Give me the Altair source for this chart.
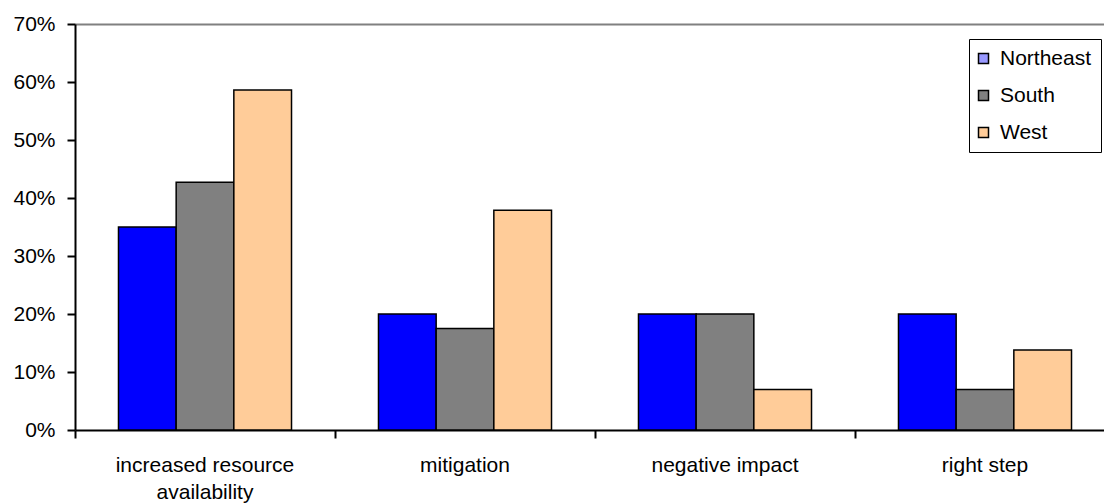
import altair as alt
import pandas as pd

categories = ["increased resource availability", "mitigation", "negative impact", "right step"]
regions = ["Northeast", "South", "West"]
northeast = [0.35, 0.20, 0.20, 0.20]
south = [0.427, 0.175, 0.20, 0.07]
west = [0.586, 0.379, 0.07, 0.138]
bar_colors = ["#0000FF", "#808080", "#FFCC99"]
legend_colors = ["#9999FF", "#808080", "#FFCC99"]
y_ticks = [0.0, 0.1, 0.2, 0.3, 0.4, 0.5, 0.6, 0.7]

rows = []
for reg, vals in zip(regions, [northeast, south, west]):
    for c, v in zip(categories, vals):
        rows.append({"category": c, "region": reg, "value": v})
df = pd.DataFrame(rows)

FONT = "Liberation Sans, Arial, sans-serif"

x_enc = alt.X(
    "category:N",
    sort=categories,
    scale=alt.Scale(range=[0, 1040], paddingInner=0, paddingOuter=0),
    axis=alt.Axis(
        title=None,
        bandPosition=0,
        labelAngle=0,
        labelAlign="center",
        labelBaseline="top",
        labelPadding=16,
        labelFontSize=21,
        labelLineHeight=27,
        labelColor="black",
        labelFont=FONT,
        tickSize=8,
        tickColor="black",
        tickWidth=2,
        domainColor="black",
        domainWidth=2,
        labelExpr="datum.label == 'increased resource availability' ? ['increased resource', 'availability'] : datum.label",
    ),
)
xo_enc = alt.XOffset("region:N", sort=regions, scale=alt.Scale(paddingInner=0, paddingOuter=0.754))

y_axis = alt.Axis(
    title=None,
    values=y_ticks,
    format=".0%",
    tickSize=8,
    tickColor="black",
    tickWidth=2,
    domainColor="black",
    domainWidth=2,
    labelPadding=12,
    labelFontSize=21,
    labelColor="black",
    labelFont=FONT,
    grid=True,
    gridWidth=2,
    gridColor={"condition": {"test": "datum.value >= 0.69", "value": "#808080"}, "value": "transparent"},
)

legend_layer = (
    alt.Chart(df)
    .transform_calculate(mid="datum.value / 2")
    .mark_square(size=100, stroke="black", strokeWidth=1.5, filled=True, opacity=1)
    .encode(
        x=x_enc,
        xOffset=xo_enc,
        y=alt.Y("mid:Q", scale=alt.Scale(domain=[0, 0.7], nice=False), axis=y_axis),
        fill=alt.Fill(
            "region:N",
            sort=regions,
            scale=alt.Scale(domain=regions, range=legend_colors),
            legend=alt.Legend(
                title=None,
                orient="none",
                legendX=894,
                legendY=15,
                strokeColor="black",
                fillColor="white",
                padding=9,
                labelFontSize=21,
                labelFont=FONT,
                labelColor="black",
                labelOffset=6,
                symbolOffset=-5,
                rowPadding=15,
                symbolType="square",
                symbolSize=100,
                symbolStrokeColor="black",
                symbolStrokeWidth=1.5,
                symbolOpacity=1,
            ),
        ),
    )
)

bars = (
    alt.Chart(df)
    .mark_bar(stroke="black", strokeWidth=1.5, opacity=1)
    .encode(
        x=x_enc,
        xOffset=xo_enc,
        y=alt.Y("value:Q", scale=alt.Scale(domain=[0, 0.7], nice=False), axis=y_axis),
        fill=alt.Fill(
            "region:N",
            sort=regions,
            scale=alt.Scale(domain=regions, range=bar_colors),
            legend=None,
        ),
    )
)

chart = (
    alt.layer(legend_layer, bars)
    .resolve_scale(fill="independent")
    .properties(
        width=1029,
        height=406,
        autosize=alt.AutoSizeParams(type="none"),
        padding={"left": 75, "top": 24, "right": 0, "bottom": 74},
        background="white",
    )
    .configure_view(stroke="transparent")
    .configure_legend(strokeWidth=2)
    .configure(font=FONT)
)

chart.save("out.html", embed_options={"renderer": "svg", "actions": False})
